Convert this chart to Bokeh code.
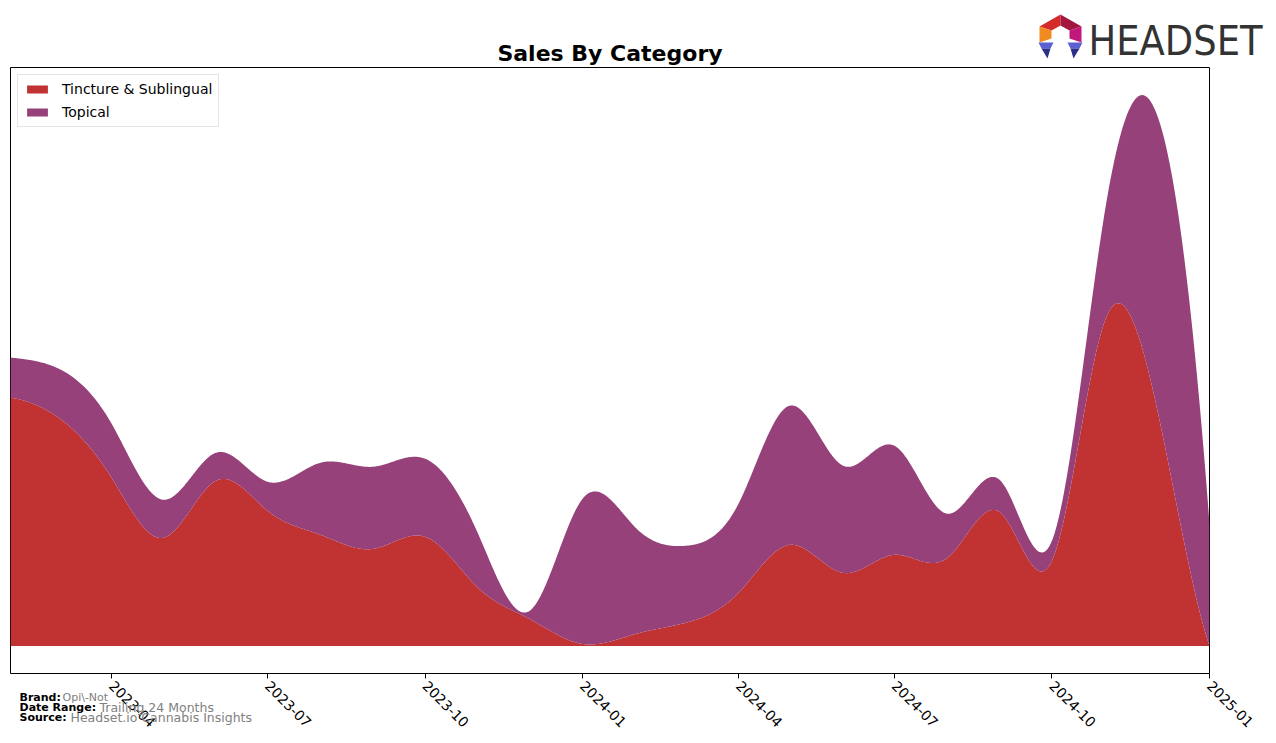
import math
import numpy as np
import pandas as pd
from bokeh.plotting import figure
from bokeh.models import Range1d, FixedTicker, DatetimeTickFormatter, Label, PolyAnnotation
from bokeh.embed import file_html
from bokeh.resources import INLINE

# ---- data (arbitrary sales units) ----
months = ["2023-02", "2023-03", "2023-04", "2023-05", "2023-06", "2023-07",
          "2023-08", "2023-09", "2023-10", "2023-11", "2023-12", "2024-01",
          "2024-02", "2024-03", "2024-04", "2024-05", "2024-06", "2024-07",
          "2024-08", "2024-09", "2024-10", "2024-11", "2024-12", "2025-01"]
tincture = [248, 228, 168, 108, 165, 135, 111, 97, 109, 58, 27, 2,
            12, 23, 53, 101, 73, 91, 88, 133, 85, 325, 240, 0]
topical = [40, 49, 54, 38, 28, 29, 72, 82, 78, 54, 8, 145,
           106, 77, 89, 139, 107, 109, 44, 32, 20, 110, 292, 122]
series_names = ["Tincture & Sublingual", "Topical"]
series_colors = ["#c13332", "#964179"]
tick_months = ["2023-04", "2023-07", "2023-10", "2024-01", "2024-04",
               "2024-07", "2024-10", "2025-01"]

chart_title = "Sales By Category"
brand = "Opi\\-Not"
date_range = "Trailing 24 Months"
source = "Headset.io Cannabis Insights"


def smooth(xd, yd, xs):
    """Cubic (not-a-knot) spline through the monthly points, for drawing only."""
    x = np.asarray(xd, float)
    y = np.asarray(yd, float)
    n = len(x)
    h = np.diff(x)
    A = np.zeros((n, n))
    r = np.zeros(n)
    for i in range(1, n - 1):
        A[i, i - 1] = h[i - 1]
        A[i, i] = 2 * (h[i - 1] + h[i])
        A[i, i + 1] = h[i]
        r[i] = 6 * ((y[i + 1] - y[i]) / h[i] - (y[i] - y[i - 1]) / h[i - 1])
    A[0, 0], A[0, 1], A[0, 2] = h[1], -(h[0] + h[1]), h[0]
    A[-1, -3], A[-1, -2], A[-1, -1] = h[-1], -(h[-2] + h[-1]), h[-2]
    M = np.linalg.solve(A, r)
    idx = np.clip(np.searchsorted(x, xs) - 1, 0, n - 2)
    x0, x1 = x[idx], x[idx + 1]
    hh = x1 - x0
    a = (x1 - xs) / hh
    b = (xs - x0) / hh
    return a * y[idx] + b * y[idx + 1] + ((a ** 3 - a) * M[idx] + (b ** 3 - b) * M[idx + 1]) * hh ** 2 / 6


dates = pd.to_datetime([m + "-01" for m in months])
xd = (dates - dates[0]).days.values.astype(float)
xs = np.linspace(xd[0], xd[-1], 1400)
t_s = np.clip(smooth(xd, tincture, xs), 0, None)
p_s = np.clip(smooth(xd, topical, xs), 0, None)
total = t_s + p_s
x_dt = (dates[0] + pd.to_timedelta(xs, unit="D")).values

ymax = total.max()

W, H = 1276, 743
FL, FR, FT, FB = 10, 1209, 67, 673

p = figure(width=W, height=H, x_axis_type="datetime",
           x_range=Range1d(dates[0], dates[-1]),
           y_range=Range1d(-0.05 * ymax, 1.05 * ymax),
           output_backend="svg", toolbar_location=None,
           min_border_left=FL, min_border_right=W - FR,
           min_border_top=FT, min_border_bottom=H - FB)
p.title.visible = False
p.background_fill_color = "white"
p.border_fill_color = "white"
p.outline_line_color = "black"
p.outline_line_width = 1
p.xgrid.visible = False
p.ygrid.visible = False
p.yaxis.visible = False

p.varea(x=x_dt, y1=0, y2=t_s, fill_color=series_colors[0], legend_label=series_names[0])
p.varea(x=x_dt, y1=t_s, y2=total, fill_color=series_colors[1], legend_label=series_names[1])

ticks = [pd.Timestamp(m + "-01").value / 1e6 for m in tick_months]
ax = p.xaxis[0]
ax.ticker = FixedTicker(ticks=ticks, minor_ticks=[])
fmt = "%Y-%m"
ax.formatter = DatetimeTickFormatter(years=fmt, months=fmt, days=fmt, hours=fmt,
                                     minutes=fmt, seconds=fmt, milliseconds=fmt,
                                     minsec=fmt, hourmin=fmt)
ax.major_label_orientation = -math.pi / 4
ax.major_label_text_font = "DejaVu Sans"
ax.major_label_text_font_size = "14px"
ax.major_label_text_color = "black"
ax.axis_line_color = None
ax.major_tick_line_color = "black"
ax.major_tick_out = 5
ax.major_tick_in = 0
ax.minor_tick_line_color = None
ax.major_label_standoff = 5

lg = p.legend[0]
lg.location = "top_left"
lg.margin = 7
lg.padding = 6
lg.spacing = 7
lg.glyph_width = 26
lg.glyph_height = 10
lg.label_height = 14
lg.label_standoff = 12
lg.label_text_font = "DejaVu Sans"
lg.label_text_font_size = "14px"
lg.label_text_color = "black"
lg.border_line_color = "#cccccc"
lg.border_line_width = 1
lg.background_fill_alpha = 0.8

# ---- transparent overlay (separate root) for texts and logo outside the frame ----
top = figure(width=W, height=H, x_range=Range1d(0, W), y_range=Range1d(0, H),
             output_backend="svg", toolbar_location=None,
             x_axis_location=None, y_axis_location=None,
             min_border_left=0, min_border_right=0, min_border_top=0, min_border_bottom=0)
top.title.visible = False
top.background_fill_color = None
top.border_fill_color = None
top.outline_line_color = None
top.xgrid.visible = False
top.ygrid.visible = False
top.styles = {"position": "absolute", "top": "0px", "left": "0px", "pointer-events": "none"}


def lab(text, cx, cy, size, color="black", bold=False, align="left", font="DejaVu Sans"):
    cy_adj = cy - 0.36 * size  # compensate for where the renderer puts the baseline
    top.add_layout(Label(x=cx, y=H - cy_adj, x_units="screen", y_units="screen",
                         text=text, text_font=font, text_font_size=f"{size}px",
                         text_color=color, text_font_style="bold" if bold else "normal",
                         text_align=align, text_baseline="alphabetic"))


lab(chart_title, (FL + FR) / 2, 61, 22, bold=True, align="center")
lab("Brand:", 19, 701, 11, bold=True)
lab(brand, 62, 701, 11, color="#808080")
lab("Date Range:", 19, 711, 11, bold=True)
lab(date_range, 99, 711, 12.5, color="#808080")
lab("Source:", 19, 721, 11, bold=True)
lab(source, 70, 721, 12.5, color="#808080")

# logo
lab("HEADSET", 1262, 55, 41, color="#333333", align="right",
    font="'DejaVu Sans Condensed', 'Liberation Sans', sans-serif")
logo_parts = [
    ([1060, 1039, 1051, 1060], [14, 26, 30, 25], "#d42a2a"),
    ([1060, 1081, 1069, 1060], [14, 26, 30, 25], "#a3173f"),
    ([1039, 1039, 1051, 1051], [26, 42, 38, 30], "#f28a22"),
    ([1081, 1081, 1069, 1069], [26, 42, 38, 30], "#c2187e"),
    ([1038, 1053, 1050, 1041], [42, 42, 48, 48], "#5c60d0"),
    ([1041, 1050, 1047], [48, 48, 58], "#2c2e8c"),
    ([1067, 1082, 1079, 1070], [42, 42, 48, 48], "#5c60d0"),
    ([1070, 1079, 1073], [48, 48, 58], "#2c2e8c"),
]
for xs_, ys_, col in logo_parts:
    top.add_layout(PolyAnnotation(xs=xs_, ys=[H - v for v in ys_],
                                  xs_units="screen", ys_units="screen",
                                  fill_color=col, fill_alpha=1, line_color=None))

open("out.html", "w").write(file_html([p, top], INLINE))
